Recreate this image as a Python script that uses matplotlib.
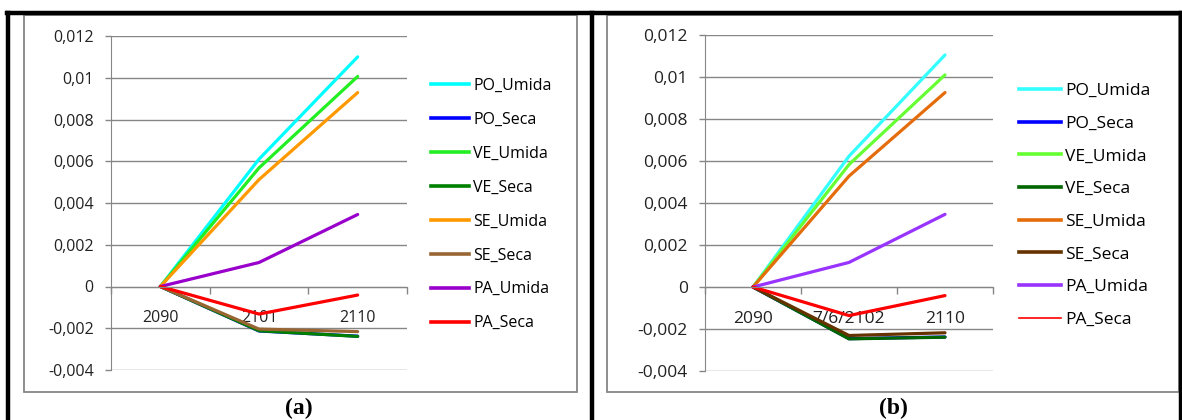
import matplotlib.pyplot as plt
from matplotlib.lines import Line2D
from matplotlib.patches import Rectangle

W, H = 1182, 420

# data
series = ['PO_Umida', 'PO_Seca', 'VE_Umida', 'VE_Seca', 'SE_Umida', 'SE_Seca', 'PA_Umida', 'PA_Seca']
cats_a = ['2090', '2101', '2110']
cats_b = ['2090', '7/6/2102', '2110']

vals_a = {
    'PO_Umida': [0, 0.00610, 0.01100],
    'PO_Seca': [0, -0.00213, -0.00238],
    'VE_Umida': [0, 0.00568, 0.01006],
    'VE_Seca': [0, -0.00212, -0.00239],
    'SE_Umida': [0, 0.00512, 0.00929],
    'SE_Seca': [0, -0.00204, -0.00216],
    'PA_Umida': [0, 0.00115, 0.00345],
    'PA_Seca': [0, -0.00132, -0.00041],
}
vals_b = {
    'PO_Umida': [0, 0.00623, 0.01105],
    'PO_Seca': [0, -0.00246, -0.00238],
    'VE_Umida': [0, 0.00583, 0.01010],
    'VE_Seca': [0, -0.00247, -0.00239],
    'SE_Umida': [0, 0.00528, 0.00926],
    'SE_Seca': [0, -0.00231, -0.00218],
    'PA_Umida': [0, 0.00117, 0.00346],
    'PA_Seca': [0, -0.00136, -0.00041],
}
colors_a = ['#00FFFF', '#0000FF', '#22EE22', '#008000', '#FF9900', '#996633', '#9900CC', '#FF0000']
colors_b = ['#33FFFF', '#0000FF', '#66FF33', '#006600', '#E46C0A', '#663300', '#9933FF', '#FF0000']

yticks = [-0.004, -0.002, 0, 0.002, 0.004, 0.006, 0.008, 0.01, 0.012]
ytick_labels = ['-0,004', '-0,002', '0', '0,002', '0,004', '0,006', '0,008', '0,01', '0,012']

plt.rcParams['font.family'] = ['Open Sans', 'DejaVu Sans']

fig = plt.figure(figsize=(W / 100, H / 100), dpi=100)


def px_axes(x0, y0, x1, y1):
    return fig.add_axes([x0 / W, 1 - y1 / H, (x1 - x0) / W, (y1 - y0) / H])


def fig_xy(x, y):
    return x / W, 1 - y / H


# outer black borders
for (xa, ya, xb, yb) in [(7, 13, 1182, 13), (8, 13, 8, 420), (592, 13, 592, 420), (1181, 13, 1181, 420)]:
    p0 = fig_xy(xa, ya)
    p1 = fig_xy(xb, yb)
    fig.add_artist(Line2D([p0[0], p1[0]], [p0[1], p1[1]], color='black', lw=3.2))

# grey chart frames
for (xa, ya, xb, yb) in [(24, 15, 577, 392), (607, 15, 1179, 392)]:
    fig.add_artist(Rectangle(fig_xy(xa, yb), (xb - xa) / W, (yb - ya) / H,
                             fill=False, edgecolor='#868686', lw=1.3))


def draw_panel(ax, cats, vals, colors, fs):
    x = list(range(1, len(cats) + 1))
    for name, c in zip(series, colors):
        ax.plot(x, vals[name], color=c, lw=2.3, solid_capstyle='round')
    ax.set_xlim(0.5, len(cats) + 0.5)
    ax.set_ylim(-0.004, 0.012)
    ax.set_yticks(yticks)
    ax.set_yticklabels(ytick_labels)
    ax.yaxis.grid(True, color='#868686', lw=1.0)
    ax.set_axisbelow(True)
    ax.set_xticks(x)
    ax.set_xticklabels(cats)
    ax.set_xticks([i + 0.5 for i in range(len(cats) + 1)], minor=True)
    ax.tick_params(axis='x', which='major', length=0, pad=17, labelsize=fs, labelcolor='#222222')
    ax.tick_params(axis='x', which='minor', length=5, color='#868686', width=1.0, direction='out')
    ax.tick_params(axis='y', length=4.5, color='#868686', width=1.0, pad=8,
                   labelsize=fs, labelcolor='#222222')
    for s in ['top', 'right']:
        ax.spines[s].set_visible(False)
    ax.spines['left'].set_color('#868686')
    ax.spines['bottom'].set_color('#868686')
    ax.spines['bottom'].set_position(('data', 0))
    ax.patch.set_alpha(0)


ax1 = px_axes(111, 36, 407, 370)
draw_panel(ax1, cats_a, vals_a, colors_a, 11.5)
ax2 = px_axes(705, 35, 993, 371)
draw_panel(ax2, cats_b, vals_b, colors_b, 12.5)

handles_a = [Line2D([], [], color=c, lw=2.6) for c in colors_a]
handles_b = [Line2D([], [], color=c, lw=2.6) for c in colors_b]
handles_b[-1] = Line2D([], [], color=colors_b[-1], lw=1.2)

fig.legend(handles_a, series, loc='upper left', bbox_to_anchor=fig_xy(431, 78),
           frameon=False, fontsize=11.5, handlelength=2.4, handletextpad=0.25,
           labelspacing=1.12, borderpad=0, borderaxespad=0)
fig.legend(handles_b, series, loc='upper left', bbox_to_anchor=fig_xy(1019, 83),
           frameon=False, fontsize=12.5, handlelength=2.4, handletextpad=0.25,
           labelspacing=0.95, borderpad=0, borderaxespad=0)

fig.text(*fig_xy(299, 408), '(a)', family='Liberation Serif', weight='bold', fontsize=17,
         ha='center', va='center')
fig.text(*fig_xy(893, 408), '(b)', family='Liberation Serif', weight='bold', fontsize=17,
         ha='center', va='center')

fig.savefig('out.png', dpi=100)
